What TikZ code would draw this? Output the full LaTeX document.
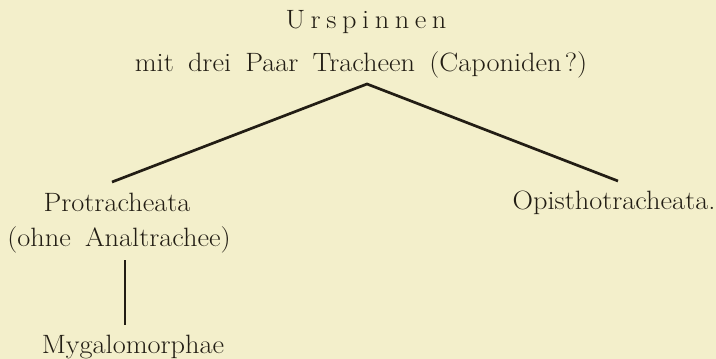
\documentclass[tikz,border=0pt]{standalone}
\usepackage{fontspec}
\usepackage{graphicx}
\definecolor{paper}{HTML}{F3EFCB}
\definecolor{ink}{HTML}{221D14}
% slightly widened old-style setting with generous word spaces
\newcommand{\wide}[1]{\scalebox{1.07}[1]{\spaceskip=0.5em plus 0.1em\relax #1}}
\newcommand{\gap}{\kern5.2pt}
\begin{document}
\begin{tikzpicture}[x=1pt,y=-1pt,
  label/.style={text=ink,inner sep=0pt,anchor=base,font=\fontsize{26.5}{30}\selectfont},
  branch/.style={draw=ink,line width=2.7pt}]
\fill[paper] (0,0) rectangle (716,359);
\useasboundingbox (0,0) rectangle (716,359);
\node[label] (ur) at (366,28) {\wide{U\gap r\gap s\gap p\gap i\gap n\gap n\gap e\gap n}};
\node[label] (mit) at (361,71) {\wide{mit drei Paar Tracheen (Caponiden\kern3pt?)}};
\coordinate (apex) at (367,84);
\coordinate (lend) at (112,182);
\coordinate (rend) at (618,181);
\node[label] (pro) at (117,211) {\wide{Protracheata}};
\node[label] (ohne) at (119,246) {\wide{(ohne Analtrachee)}};
\node[label] (opi) at (614,209) {\wide{Opisthotracheata.}};
\node[label] (myg) at (133,353) {\wide{Mygalomorphae}};
\coordinate (vtop) at (125,260);
\coordinate (vbot) at (125,325);
\draw[branch] (lend) -- (apex) -- (rend);
\draw[branch] (vtop) -- (vbot);
\end{tikzpicture}
\end{document}
